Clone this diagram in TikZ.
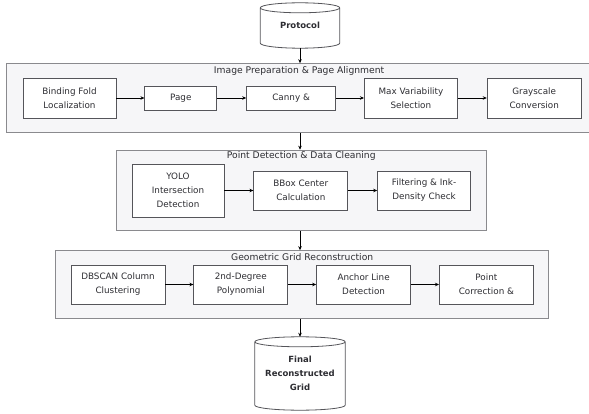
\documentclass[tikz,border=0pt]{standalone}
\usepackage{fontspec}
\setmainfont{DejaVu Sans}
\usepackage{xcolor}
\usepackage{tikz}
\usetikzlibrary{shapes,arrows.meta,positioning,calc,fit,backgrounds}
\definecolor{groupfill}{RGB}{246, 246, 248}
\definecolor{groupline}{RGB}{138, 138, 142}
\definecolor{boxline}{RGB}{85, 85, 90}
\definecolor{textdark}{RGB}{45, 45, 50}

% cylinder outline around a named text node
\newcommand{\drawdb}[1]{%
  \draw[dbline] let \p1=(#1.north west), \p2=(#1.south east), \n1={0.5*(\x2-\x1)} in
    (\x1,{\y1-5pt}) -- (\x1,{\y2+5pt})
    arc[start angle=180, end angle=360, x radius=\n1, y radius=5pt]
    -- (\x2,{\y1-5pt})
    arc[start angle=0, end angle=360, x radius=\n1, y radius=5pt];
}

\begin{document}
\begin{tikzpicture}[
    x=1pt, y=1pt,
    font=\fontsize{8.8}{14}\selectfont,
    node distance=28pt,
    stepbox/.style={rectangle, draw=boxline, fill=white, line width=0.8pt, minimum height=24pt, align=center, text=textdark, inner sep=2pt},
    group/.style={rectangle, draw=groupline, fill=groupfill, line width=0.8pt, inner xsep=15pt, inner ysep=14pt},
    grouptitle/.style={font=\fontsize{9.2}{11}\selectfont, text=textdark, inner sep=0pt},
    dbtext/.style={rectangle, align=center, font=\fontsize{8.5}{14}\selectfont\bfseries, text=textdark},
    dbline/.style={draw=boxline, fill=white, line width=0.8pt},
    arrow/.style={-{Stealth[length=4pt,width=3.5pt]}, line width=0.8pt}
]
    \useasboundingbox (0,0) rectangle (589,-414);

    \node[dbtext, minimum width=79pt, minimum height=45pt] (protocol) at (300,-25.5) {Protocol};

    % image preparation
    \node[stepbox, minimum width=93pt, minimum height=40pt] (fold) at (69.5,-98) {Binding Fold\\Localization};
    \node[stepbox, minimum width=72pt, right=of fold] (page) {Page};
    \node[stepbox, minimum width=89pt, right=29pt of page] (canny) {Canny \&};
    \node[stepbox, minimum width=93pt, minimum height=40pt, right=of canny] (maxvar) {Max Variability\\Selection};
    \node[stepbox, minimum width=94pt, minimum height=40pt, right=29pt of maxvar] (gray) {Grayscale\\Conversion};

    % point detection
    \node[stepbox, minimum width=92pt, minimum height=53pt] (yolo) at (178,-190.5) {YOLO\\Intersection\\Detection};
    \node[stepbox, minimum width=94pt, minimum height=39pt, right=29pt of yolo] (bbox) {BBox Center\\Calculation};
    \node[stepbox, minimum width=93pt, minimum height=39pt, right=29pt of bbox] (filter) {Filtering \& Ink-\\Density Check};

    % grid reconstruction
    \node[stepbox, minimum width=94pt, minimum height=39pt] (dbscan) at (118,-284.5) {DBSCAN Column\\Clustering};
    \node[stepbox, minimum width=94pt, minimum height=39pt, right=of dbscan] (poly) {2nd-Degree\\Polynomial};
    \node[stepbox, minimum width=94pt, minimum height=39pt, right=of poly] (anchorline) {Anchor Line\\Detection};
    \node[stepbox, minimum width=94pt, minimum height=39pt, right=of anchorline] (correct) {Point\\Correction \&};

    \node[dbtext, minimum width=90pt, minimum height=73pt] (final) at (300,-373.5) {Final\\Reconstructed\\Grid};

    \begin{scope}[on background layer]
        \node[group, fit=(fold)(gray), inner xsep=13pt, xshift=-3pt] (prep) {};
        \node[group, fit=(yolo)(filter), inner ysep=13.5pt] (detect) {};
        \node[group, fit=(dbscan)(correct)] (recon) {};
        \drawdb{protocol}
        \drawdb{final}
    \end{scope}

    \node[grouptitle] (preptitle) at ([yshift=-8pt]prep.north) {Image Preparation \& Page Alignment};
    \node[grouptitle] (detecttitle) at ([yshift=-6.5pt]detect.north) {Point Detection \& Data Cleaning};
    \node[grouptitle] (recontitle) at ([yshift=-7pt]recon.north) {Geometric Grid Reconstruction};

    \draw[arrow] (protocol.south) -- (protocol.south |- prep.north);
    \draw[arrow] (fold) -- (page);
    \draw[arrow] (page) -- (canny);
    \draw[arrow] (canny) -- (maxvar);
    \draw[arrow] (maxvar) -- (gray);
    \draw[arrow] (protocol.south |- prep.south) -- (protocol.south |- detect.north);
    \draw[arrow] (yolo) -- (bbox);
    \draw[arrow] (bbox) -- (filter);
    \draw[arrow] (protocol.south |- detect.south) -- (protocol.south |- recon.north);
    \draw[arrow] (dbscan) -- (poly);
    \draw[arrow] (poly) -- (anchorline);
    \draw[arrow] (anchorline) -- (correct);
    \draw[arrow] (protocol.south |- recon.south) -- (final.north);
\end{tikzpicture}
\end{document}
